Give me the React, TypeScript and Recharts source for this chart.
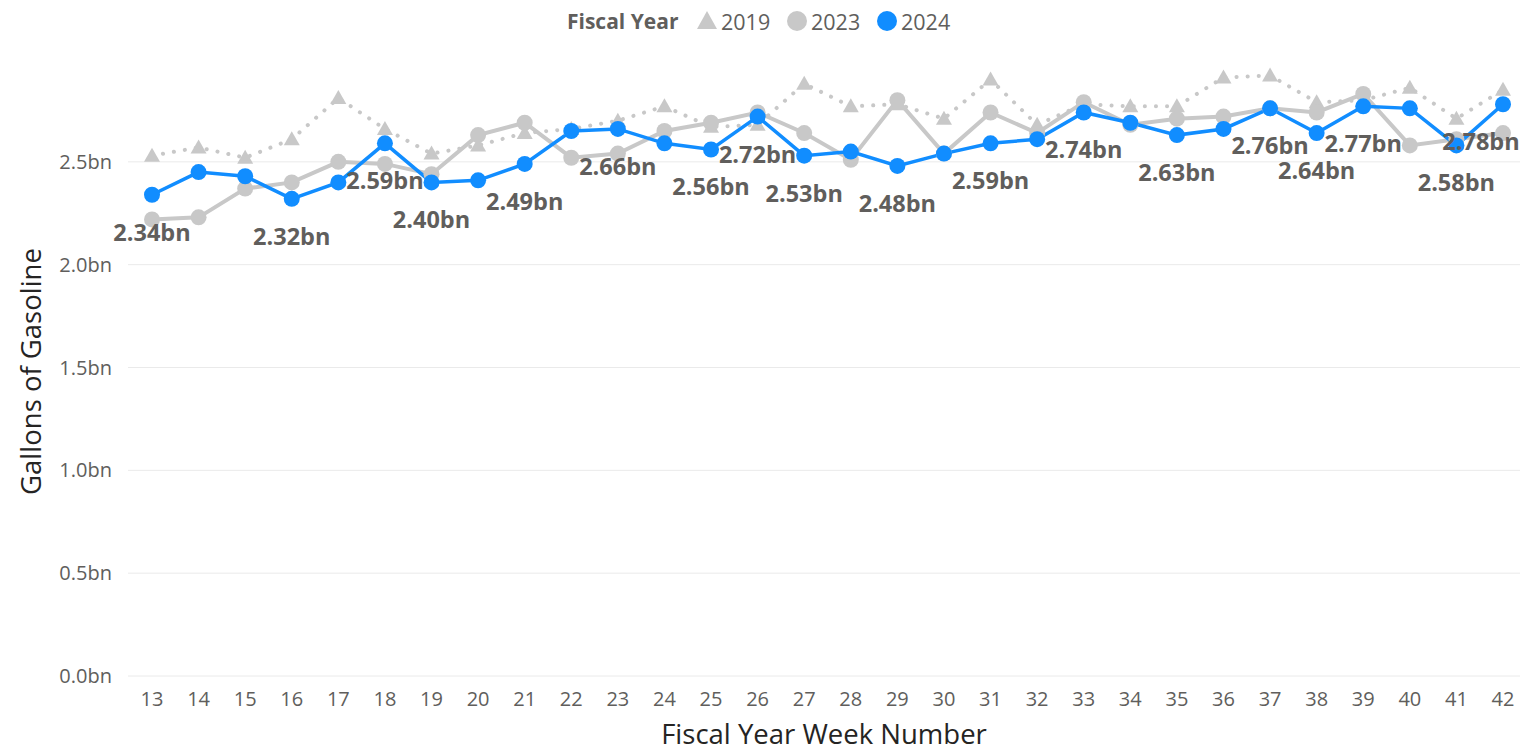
import { LineChart, Line, XAxis, YAxis, CartesianGrid, LabelList } from 'recharts';

const weeks = [13, 14, 15, 16, 17, 18, 19, 20, 21, 22, 23, 24, 25, 26, 27, 28, 29, 30, 31, 32, 33, 34, 35, 36, 37, 38, 39, 40, 41, 42];
const fy2019 = [2.53, 2.57, 2.52, 2.61, 2.81, 2.66, 2.54, 2.58, 2.64, 2.66, 2.7, 2.77, 2.67, 2.68, 2.88, 2.77, 2.78, 2.71, 2.9, 2.68, 2.78, 2.77, 2.77, 2.91, 2.92, 2.79, 2.8, 2.86, 2.71, 2.85];
const fy2023 = [2.22, 2.23, 2.37, 2.4, 2.5, 2.49, 2.44, 2.63, 2.69, 2.52, 2.54, 2.65, 2.69, 2.74, 2.64, 2.51, 2.8, 2.54, 2.74, 2.64, 2.79, 2.68, 2.71, 2.72, 2.76, 2.74, 2.83, 2.58, 2.61, 2.64];
const fy2024 = [2.34, 2.45, 2.43, 2.32, 2.4, 2.59, 2.4, 2.41, 2.49, 2.65, 2.66, 2.59, 2.56, 2.72, 2.53, 2.55, 2.48, 2.54, 2.59, 2.61, 2.74, 2.69, 2.63, 2.66, 2.76, 2.64, 2.77, 2.76, 2.58, 2.78];
const labeledWeeks = [13, 16, 18, 19, 21, 23, 25, 26, 27, 29, 31, 33, 35, 37, 38, 39, 41, 42];
const yTicks = [0, 0.5, 1, 1.5, 2, 2.5];
const yMax = 3;

const data = weeks.map((w, i) => ({ week: w, y2019: fy2019[i], y2023: fy2023[i], y2024: fy2024[i] }));

const FONT = '"Segoe UI", "Open Sans", sans-serif';
const BLUE = '#118DFF';
const GRAY = '#C8C8C8';
const TEXT = '#605E5C';

const Triangle = (props: any) => {
  const { cx, cy } = props;
  if (cx == null || cy == null) return null;
  return <polygon points={`${cx},${cy - 8} ${cx - 8},${cy + 6} ${cx + 8},${cy + 6}`} fill={GRAY} />;
};

const renderLabel = (props: any) => {
  const { x, y, value, index } = props;
  if (!labeledWeeks.includes(weeks[index])) return null;
  const cx = Math.min(x, 1520 - 39);
  return (
    <text x={cx} y={y + 37} textAnchor="middle" dominantBaseline="central" fontFamily={FONT} fontWeight={700} fontSize={23.5} fill={TEXT}>
      {value.toFixed(2)}bn
    </text>
  );
};

// grid only at the labelled ticks, not at the top edge of the plot
const gridLines = ({ offset }: any) => yTicks.map((t) => offset.top + offset.height * (1 - t / yMax));

export default function App() {
  return (
    <div style={{ position: 'absolute', left: 0, top: 0, width: 1520, height: 753, background: '#fff' }}>
      <svg width={1520} height={40} style={{ position: 'absolute', left: 0, top: 0 }}>
        <g fontFamily={FONT} fill={TEXT}>
          <text x={567} y={21} dominantBaseline="central" fontWeight={700} fontSize={21}>Fiscal Year</text>
          <polygon points="707,11 697,29 717,29" fill={GRAY} />
          <text x={721} y={21} dominantBaseline="central" fontSize={21.5}>2019</text>
          <circle cx={797} cy={21} r={10} fill={GRAY} />
          <text x={811} y={21} dominantBaseline="central" fontSize={21.5}>2023</text>
          <circle cx={887} cy={21} r={10} fill={BLUE} />
          <text x={901} y={21} dominantBaseline="central" fontSize={21.5}>2024</text>
        </g>
      </svg>
      <LineChart width={1520} height={753} data={data} margin={{ top: 59, right: 0, bottom: 0, left: 0 }}>
        <CartesianGrid vertical={false} stroke="#EAEAEA" strokeWidth={1} horizontalCoordinatesGenerator={gridLines} />
        <XAxis
          dataKey="week"
          axisLine={false}
          tickLine={false}
          tickSize={0}
          tickMargin={16}
          height={77}
          padding={{ left: 24, right: 17 }}
          interval={0}
          tick={{ fill: TEXT, fontSize: 20, fontFamily: FONT }}
          label={{
            content: (p: any) => {
              const vb = p.viewBox;
              return (
                <text x={vb.x + vb.width / 2} y={733} textAnchor="middle" dominantBaseline="central" fontFamily={FONT} fontSize={27.5} fill="#252423">
                  Fiscal Year Week Number
                </text>
              );
            },
          }}
        />
        <YAxis
          domain={[0, yMax]}
          ticks={yTicks}
          width={128}
          axisLine={false}
          tickLine={false}
          tickSize={0}
          tickMargin={16}
          tickFormatter={(v: number) => `${v.toFixed(1)}bn`}
          tick={{ fill: TEXT, fontSize: 20, fontFamily: FONT }}
          label={{
            content: (p: any) => {
              const vb = p.viewBox;
              const cy = vb.y + vb.height / 2 + 4;
              return (
                <text x={30} y={cy} transform={`rotate(-90 30 ${cy})`} textAnchor="middle" dominantBaseline="central" fontFamily={FONT} fontSize={27.5} fill="#252423">
                  Gallons of Gasoline
                </text>
              );
            },
          }}
        />
        <Line
          dataKey="y2019"
          stroke={GRAY}
          strokeWidth={4}
          strokeDasharray="0.1 11"
          strokeLinecap="round"
          dot={<Triangle />}
          activeDot={false}
          isAnimationActive={false}
        />
        <Line
          dataKey="y2023"
          stroke={GRAY}
          strokeWidth={4}
          dot={{ r: 8, fill: GRAY, stroke: 'none' }}
          activeDot={false}
          isAnimationActive={false}
        />
        <Line
          dataKey="y2024"
          stroke={BLUE}
          strokeWidth={3.5}
          dot={{ r: 8, fill: BLUE, stroke: 'none' }}
          activeDot={false}
          isAnimationActive={false}
        >
          <LabelList dataKey="y2024" content={renderLabel} />
        </Line>
      </LineChart>
    </div>
  );
}
